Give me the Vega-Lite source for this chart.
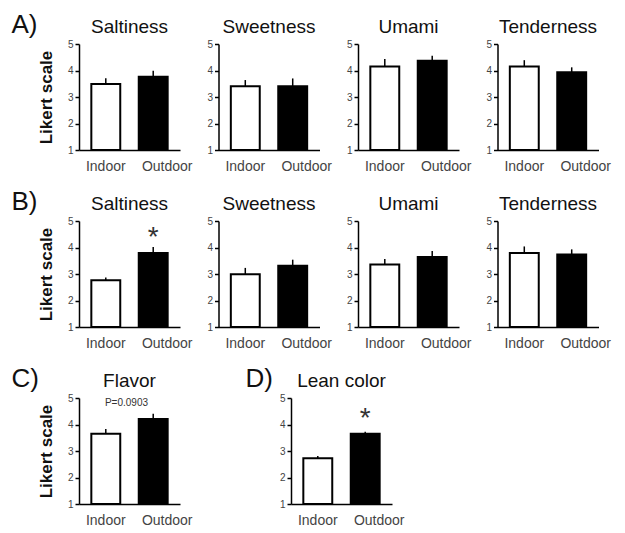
{
  "$schema": "https://vega.github.io/schema/vega-lite/v6.json",
  "background": "white",
  "padding": {"left": 11, "top": 12, "right": 5, "bottom": 5},
  "config": {
    "view": {"discreteWidth": 101, "continuousHeight": 106, "stroke": null},
    "scale": {"bandPaddingInner": 0.39, "bandPaddingOuter": 0.26},
    "axis": {"domainColor": "black", "tickColor": "black", "labelColor": "#444", "labelFont": "Liberation Sans", "titleFont": "Liberation Sans", "titleColor": "#111", "grid": false, "domainWidth": 1.5},
    "axisY": {"labelFontSize": 10, "tickSize": 4, "tickWidth": 1.5, "tickCount": 5, "titleFontSize": 17, "titleFontWeight": "bold", "titlePadding": 12},
    "axisX": {"ticks": false, "labelAngle": 0, "labelFontSize": 14, "labelPadding": 9, "title": null},
    "title": {"fontSize": 19, "fontWeight": "normal", "font": "Liberation Sans", "color": "#111", "offset": 2},
    "concat": {"spacing": 13.5}
  },
  "spacing": 16,
  "vconcat": [
    {
      "title": {"text": "A)", "anchor": "start", "fontSize": 26, "offset": -20, "dx": -26},
      "hconcat": [
        {"title": "Saltiness", "data": {"values": [{"group": "Indoor", "mean": 3.49, "upper": 3.71}, {"group": "Outdoor", "mean": 3.76, "upper": 3.99}]},
          "layer": [
            {"mark": {"type": "bar", "stroke": "black", "strokeWidth": 2}, "encoding": {"x": {"field": "group", "type": "nominal", "axis": {"labelOffset": {"condition": {"test": "datum.value == 'Outdoor'", "value": 14}, "value": 0}}}, "y": {"field": "mean", "type": "quantitative", "scale": {"domain": [1, 5]}, "axis": {"title": "Likert scale"}}, "y2": {"datum": 1}, "fill": {"field": "group", "type": "nominal", "scale": {"range": ["white", "black"]}, "legend": null}}},
            {"mark": {"type": "rule", "strokeWidth": 1.5, "color": "black"}, "encoding": {"x": {"field": "group", "type": "nominal"}, "y": {"field": "mean", "type": "quantitative"}, "y2": {"field": "upper"}}}
          ]},
        {"title": "Sweetness", "data": {"values": [{"group": "Indoor", "mean": 3.41, "upper": 3.64}, {"group": "Outdoor", "mean": 3.41, "upper": 3.70}]},
          "layer": [
            {"mark": {"type": "bar", "stroke": "black", "strokeWidth": 2}, "encoding": {"x": {"field": "group", "type": "nominal", "axis": {"labelOffset": {"condition": {"test": "datum.value == 'Outdoor'", "value": 14}, "value": 0}}}, "y": {"field": "mean", "type": "quantitative", "scale": {"domain": [1, 5]}, "axis": {"title": null}}, "y2": {"datum": 1}, "fill": {"field": "group", "type": "nominal", "scale": {"range": ["white", "black"]}, "legend": null}}},
            {"mark": {"type": "rule", "strokeWidth": 1.5, "color": "black"}, "encoding": {"x": {"field": "group", "type": "nominal"}, "y": {"field": "mean", "type": "quantitative"}, "y2": {"field": "upper"}}}
          ]},
        {"title": "Umami", "data": {"values": [{"group": "Indoor", "mean": 4.15, "upper": 4.43}, {"group": "Outdoor", "mean": 4.37, "upper": 4.56}]},
          "layer": [
            {"mark": {"type": "bar", "stroke": "black", "strokeWidth": 2}, "encoding": {"x": {"field": "group", "type": "nominal", "axis": {"labelOffset": {"condition": {"test": "datum.value == 'Outdoor'", "value": 14}, "value": 0}}}, "y": {"field": "mean", "type": "quantitative", "scale": {"domain": [1, 5]}, "axis": {"title": null}}, "y2": {"datum": 1}, "fill": {"field": "group", "type": "nominal", "scale": {"range": ["white", "black"]}, "legend": null}}},
            {"mark": {"type": "rule", "strokeWidth": 1.5, "color": "black"}, "encoding": {"x": {"field": "group", "type": "nominal"}, "y": {"field": "mean", "type": "quantitative"}, "y2": {"field": "upper"}}}
          ]},
        {"title": "Tenderness", "data": {"values": [{"group": "Indoor", "mean": 4.15, "upper": 4.39}, {"group": "Outdoor", "mean": 3.93, "upper": 4.12}]},
          "layer": [
            {"mark": {"type": "bar", "stroke": "black", "strokeWidth": 2}, "encoding": {"x": {"field": "group", "type": "nominal", "axis": {"labelOffset": {"condition": {"test": "datum.value == 'Outdoor'", "value": 14}, "value": 0}}}, "y": {"field": "mean", "type": "quantitative", "scale": {"domain": [1, 5]}, "axis": {"title": null}}, "y2": {"datum": 1}, "fill": {"field": "group", "type": "nominal", "scale": {"range": ["white", "black"]}, "legend": null}}},
            {"mark": {"type": "rule", "strokeWidth": 1.5, "color": "black"}, "encoding": {"x": {"field": "group", "type": "nominal"}, "y": {"field": "mean", "type": "quantitative"}, "y2": {"field": "upper"}}}
          ]}
      ]
    },
    {
      "title": {"text": "B)", "anchor": "start", "fontSize": 26, "offset": -20, "dx": -26},
      "hconcat": [
        {"title": "Saltiness", "data": {"values": [{"group": "Indoor", "mean": 2.76, "upper": 2.87}, {"group": "Outdoor", "mean": 3.79, "upper": 4.02}]},
          "layer": [
            {"mark": {"type": "bar", "stroke": "black", "strokeWidth": 2}, "encoding": {"x": {"field": "group", "type": "nominal", "axis": {"labelOffset": {"condition": {"test": "datum.value == 'Outdoor'", "value": 14}, "value": 0}}}, "y": {"field": "mean", "type": "quantitative", "scale": {"domain": [1, 5]}, "axis": {"title": "Likert scale"}}, "y2": {"datum": 1}, "fill": {"field": "group", "type": "nominal", "scale": {"range": ["white", "black"]}, "legend": null}}},
            {"mark": {"type": "rule", "strokeWidth": 1.5, "color": "black"}, "encoding": {"x": {"field": "group", "type": "nominal"}, "y": {"field": "mean", "type": "quantitative"}, "y2": {"field": "upper"}}},
            {"data": {"values": [{"mark": "*"}]}, "mark": {"type": "text", "fontSize": 28, "font": "Liberation Sans", "baseline": "middle", "dy": 6, "color": "#333"}, "encoding": {"text": {"field": "mark"}, "x": {"datum": "Outdoor"}, "y": {"datum": 4.58}}}
          ]},
        {"title": "Sweetness", "data": {"values": [{"group": "Indoor", "mean": 2.99, "upper": 3.23}, {"group": "Outdoor", "mean": 3.31, "upper": 3.54}]},
          "layer": [
            {"mark": {"type": "bar", "stroke": "black", "strokeWidth": 2}, "encoding": {"x": {"field": "group", "type": "nominal", "axis": {"labelOffset": {"condition": {"test": "datum.value == 'Outdoor'", "value": 14}, "value": 0}}}, "y": {"field": "mean", "type": "quantitative", "scale": {"domain": [1, 5]}, "axis": {"title": null}}, "y2": {"datum": 1}, "fill": {"field": "group", "type": "nominal", "scale": {"range": ["white", "black"]}, "legend": null}}},
            {"mark": {"type": "rule", "strokeWidth": 1.5, "color": "black"}, "encoding": {"x": {"field": "group", "type": "nominal"}, "y": {"field": "mean", "type": "quantitative"}, "y2": {"field": "upper"}}}
          ]},
        {"title": "Umami", "data": {"values": [{"group": "Indoor", "mean": 3.36, "upper": 3.57}, {"group": "Outdoor", "mean": 3.64, "upper": 3.87}]},
          "layer": [
            {"mark": {"type": "bar", "stroke": "black", "strokeWidth": 2}, "encoding": {"x": {"field": "group", "type": "nominal", "axis": {"labelOffset": {"condition": {"test": "datum.value == 'Outdoor'", "value": 14}, "value": 0}}}, "y": {"field": "mean", "type": "quantitative", "scale": {"domain": [1, 5]}, "axis": {"title": null}}, "y2": {"datum": 1}, "fill": {"field": "group", "type": "nominal", "scale": {"range": ["white", "black"]}, "legend": null}}},
            {"mark": {"type": "rule", "strokeWidth": 1.5, "color": "black"}, "encoding": {"x": {"field": "group", "type": "nominal"}, "y": {"field": "mean", "type": "quantitative"}, "y2": {"field": "upper"}}}
          ]},
        {"title": "Tenderness", "data": {"values": [{"group": "Indoor", "mean": 3.79, "upper": 4.04}, {"group": "Outdoor", "mean": 3.74, "upper": 3.93}]},
          "layer": [
            {"mark": {"type": "bar", "stroke": "black", "strokeWidth": 2}, "encoding": {"x": {"field": "group", "type": "nominal", "axis": {"labelOffset": {"condition": {"test": "datum.value == 'Outdoor'", "value": 14}, "value": 0}}}, "y": {"field": "mean", "type": "quantitative", "scale": {"domain": [1, 5]}, "axis": {"title": null}}, "y2": {"datum": 1}, "fill": {"field": "group", "type": "nominal", "scale": {"range": ["white", "black"]}, "legend": null}}},
            {"mark": {"type": "rule", "strokeWidth": 1.5, "color": "black"}, "encoding": {"x": {"field": "group", "type": "nominal"}, "y": {"field": "mean", "type": "quantitative"}, "y2": {"field": "upper"}}}
          ]}
      ]
    },
    {
      "spacing": 52,
      "hconcat": [
        {
          "title": {"text": "C)", "anchor": "start", "fontSize": 26, "offset": -20, "dx": -26},
          "hconcat": [
            {"title": "Flavor", "data": {"values": [{"group": "Indoor", "mean": 3.65, "upper": 3.83}, {"group": "Outdoor", "mean": 4.21, "upper": 4.41}]},
              "layer": [
                {"mark": {"type": "bar", "stroke": "black", "strokeWidth": 2}, "encoding": {"x": {"field": "group", "type": "nominal", "axis": {"labelOffset": {"condition": {"test": "datum.value == 'Outdoor'", "value": 14}, "value": 0}}}, "y": {"field": "mean", "type": "quantitative", "scale": {"domain": [1, 5]}, "axis": {"title": "Likert scale"}}, "y2": {"datum": 1}, "fill": {"field": "group", "type": "nominal", "scale": {"range": ["white", "black"]}, "legend": null}}},
                {"mark": {"type": "rule", "strokeWidth": 1.5, "color": "black"}, "encoding": {"x": {"field": "group", "type": "nominal"}, "y": {"field": "mean", "type": "quantitative"}, "y2": {"field": "upper"}}},
                {"data": {"values": [{"note": "P=0.0903"}]}, "mark": {"type": "text", "fontSize": 10, "font": "Liberation Sans", "baseline": "middle", "dx": -3, "color": "#333"}, "encoding": {"text": {"field": "note"}, "y": {"datum": 4.81}}}
              ]}
          ]
        },
        {
          "title": {"text": "D)", "anchor": "start", "fontSize": 26, "offset": -20, "dx": -34},
          "hconcat": [
            {"title": "Lean color", "data": {"values": [{"group": "Indoor", "mean": 2.73, "upper": 2.81}, {"group": "Outdoor", "mean": 3.65, "upper": 3.73}]},
              "layer": [
                {"mark": {"type": "bar", "stroke": "black", "strokeWidth": 2}, "encoding": {"x": {"field": "group", "type": "nominal", "axis": {"labelOffset": {"condition": {"test": "datum.value == 'Outdoor'", "value": 14}, "value": 0}}}, "y": {"field": "mean", "type": "quantitative", "scale": {"domain": [1, 5]}, "axis": {"title": null}}, "y2": {"datum": 1}, "fill": {"field": "group", "type": "nominal", "scale": {"range": ["white", "black"]}, "legend": null}}},
                {"mark": {"type": "rule", "strokeWidth": 1.5, "color": "black"}, "encoding": {"x": {"field": "group", "type": "nominal"}, "y": {"field": "mean", "type": "quantitative"}, "y2": {"field": "upper"}}},
                {"data": {"values": [{"mark": "*"}]}, "mark": {"type": "text", "fontSize": 28, "font": "Liberation Sans", "baseline": "middle", "dy": 6, "color": "#333"}, "encoding": {"text": {"field": "mark"}, "x": {"datum": "Outdoor"}, "y": {"datum": 4.43}}}
              ]}
          ]
        }
      ]
    }
  ]
}
